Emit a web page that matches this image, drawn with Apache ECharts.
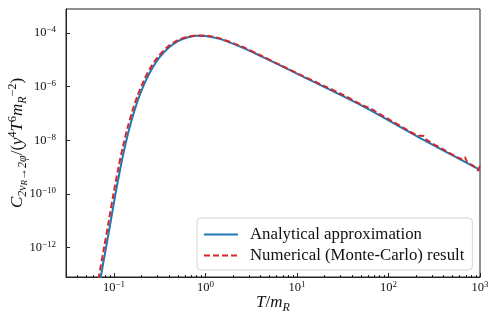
<!DOCTYPE html>
<html>
<head>
<meta charset="utf-8">
<script src="https://cdn.jsdelivr.net/npm/echarts@6/dist/echarts.min.js"></script>
<style>
  html, body { margin: 0; padding: 0; background: #fff; }
  #chart { width: 498px; height: 323px; }
</style>
</head>
<body>
<div id="chart"></div>
<script>
// analytical approximation
var tAnalytic = [0.0692, 0.0719, 0.0818, 0.0923, 0.1038, 0.1175, 0.1318, 0.1479, 0.1660, 0.1905,
  0.2239, 0.2630, 0.3162, 0.3981, 0.5012, 0.6310, 0.7943, 1, 1.462, 2.427,
  4.018, 6.310, 11.07, 50.5, 211.8, 1000];
var cAnalytic = [3.16e-14, 8.32e-14, 1e-12, 1e-11, 1e-10, 9.33e-10, 5.89e-9, 2.95e-8, 1.175e-7, 4.68e-7,
  1.74e-6, 5.01e-6, 1.26e-5, 2.88e-5, 5.01e-5, 6.76e-5, 7.94e-5, 7.76e-5, 5.89e-5, 3.02e-5,
  1.38e-5, 6.61e-6, 2.57e-6, 2.0e-7, 1.32e-8, 7.94e-10];

// numerical (Monte-Carlo) result
var tMonteCarlo = [0.0658, 0.0684, 0.0778, 0.0878, 0.0987, 0.1117, 0.1253, 0.1407, 0.1579, 0.1812,
  0.2129, 0.2501, 0.3007, 0.3786, 0.4766, 0.6166, 0.8318, 1.122, 1.462, 2.427,
  4.018, 6.607, 11.07, 19.95, 31.62, 50.5, 60.3, 67.9, 75.9, 100,
  147.9, 208.9, 240.4, 263, 398, 562, 631, 676, 724, 851, 955, 1000];
var cMonteCarlo = [3.16e-14, 8.32e-14, 1e-12, 1e-11, 1e-10, 9.33e-10, 5.89e-9, 2.95e-8, 1.175e-7, 4.68e-7,
  1.74e-6, 5.01e-6, 1.26e-5, 2.88e-5, 5.01e-5, 6.92e-5, 8.13e-5, 7.59e-5, 6.17e-5, 3.24e-5,
  1.45e-5, 6.31e-6, 2.69e-6, 1.05e-6, 5.01e-7, 2.14e-7, 1.66e-7, 1.36e-7, 1.05e-7, 6.17e-8,
  2.88e-8, 1.51e-8, 1.45e-8, 1.02e-8, 4.57e-9, 2.34e-9, 2.0e-9, 2.4e-9, 1.58e-9, 1.10e-9, 7.59e-10, 1.41e-9];

var xMajorTicks = [0.1, 1, 10, 100, 1000];
var xMinorTicks = [0.03, 0.04, 0.05, 0.06, 0.07, 0.08, 0.09,
  0.2, 0.3, 0.4, 0.5, 0.6, 0.7, 0.8, 0.9,
  2, 3, 4, 5, 6, 7, 8, 9,
  20, 30, 40, 50, 60, 70, 80, 90,
  200, 300, 400, 500, 600, 700, 800, 900];
var yMajorTicks = [1e-12, 1e-10, 1e-8, 1e-6, 1e-4];

var serif = "'Liberation Serif', 'DejaVu Serif', serif";

function pair(xs, ys) {
  return xs.map(function (x, i) { return [x, ys[i]]; });
}

function powLabel(v) {
  var e = Math.round(Math.log10(v));
  return '{b|10}{s|' + String(e).replace('-', '\u2212') + '}';
}

var labelRich = {
  b: { fontFamily: serif, fontSize: 12.5, lineHeight: 15, color: '#111' },
  s: { fontFamily: serif, fontSize: 9, lineHeight: 11, verticalAlign: 'top', color: '#111' }
};

var nameRich = {
  i: { fontFamily: serif, fontStyle: 'italic', fontSize: 17, lineHeight: 22, color: '#111' },
  n: { fontFamily: serif, fontSize: 17, lineHeight: 22, color: '#111' },
  sub: { fontFamily: serif, fontStyle: 'italic', fontSize: 12, lineHeight: 14, verticalAlign: 'bottom', color: '#111' },
  subsub: { fontFamily: serif, fontStyle: 'italic', fontSize: 9, lineHeight: 8, verticalAlign: 'bottom', color: '#111' },
  sup: { fontFamily: serif, fontSize: 12, lineHeight: 14, verticalAlign: 'top', color: '#111' }
};

var myChart = echarts.init(document.getElementById('chart'));
var option = {
  animation: false,
  grid: {
    left: 66, right: 18, top: 9, bottom: 46,
    outerBoundsMode: 'none', containLabel: false,
    show: true, borderColor: '#222', borderWidth: 1, backgroundColor: 'transparent'
  },
  legend: {
    left: 197, top: 218,
    orient: 'vertical',
    itemWidth: 34, itemHeight: 14, itemGap: 4,
    padding: [8, 8, 6, 6],
    borderColor: '#d4d4d4', borderWidth: 1, borderRadius: 4,
    backgroundColor: 'rgba(255,255,255,0.85)',
    itemStyle: { opacity: 0 },
    textStyle: { fontFamily: serif, fontSize: 16.8, color: '#111', padding: [0, 0, 0, 7] },
    data: ['Analytical approximation', 'Numerical (Monte-Carlo) result']
  },
  xAxis: [
    {
      type: 'log', min: 0.0299, max: 1000,
      name: '{i|T}{n|/}{i|m}{sub|R}',
      nameLocation: 'middle', nameGap: 15, nameMoveOverlap: false,
      nameTextStyle: { rich: nameRich },
      axisLine: { show: true, lineStyle: { color: '#222', width: 1 } },
      axisTick: { show: true, inside: true, length: 4, customValues: xMajorTicks, lineStyle: { color: '#222' } },
      axisLabel: { margin: 3, customValues: xMajorTicks, formatter: powLabel, rich: labelRich },
      splitLine: { show: false }
    },
    {
      type: 'log', min: 0.0299, max: 1000, position: 'bottom',
      axisLine: { show: false },
      axisTick: { show: true, inside: true, length: 2, customValues: xMinorTicks, lineStyle: { color: '#222' } },
      axisLabel: { show: false },
      splitLine: { show: false }
    }
  ],
  yAxis: {
    type: 'log', min: 8.1e-14, max: 7.82e-4,
    name: '{i|C}{sub|2\u03bd}{subsub|R}{sub|\u21922\u03c6}{n|/(}{i|y}{sup|4}{i|T}{sup|6}{i|m}{sub|R}{sup|\u22122}{n|)}',
    nameLocation: 'middle', nameGap: 37, nameMoveOverlap: false,
    nameTextStyle: { rich: nameRich },
    axisLine: { show: true, lineStyle: { color: '#222', width: 1 } },
    axisTick: { show: true, inside: true, length: 4, customValues: yMajorTicks, lineStyle: { color: '#222' } },
    axisLabel: { margin: 10, customValues: yMajorTicks, formatter: powLabel, rich: labelRich },
    splitLine: { show: false }
  },
  series: [
    {
      name: 'Analytical approximation',
      type: 'line', xAxisIndex: 0,
      data: pair(tAnalytic, cAnalytic),
      symbol: 'none', smooth: 0.3,
      lineStyle: { color: '#1f77b4', width: 2 },
      itemStyle: { color: '#1f77b4' }
    },
    {
      name: 'Numerical (Monte-Carlo) result',
      type: 'line', xAxisIndex: 0,
      data: pair(tMonteCarlo, cMonteCarlo),
      symbol: 'none', smooth: 0.3,
      lineStyle: { color: '#d62728', width: 2, type: [6, 3] },
      itemStyle: { color: '#d62728' }
    }
  ]
};
myChart.setOption(option);
</script>
</body>
</html>
